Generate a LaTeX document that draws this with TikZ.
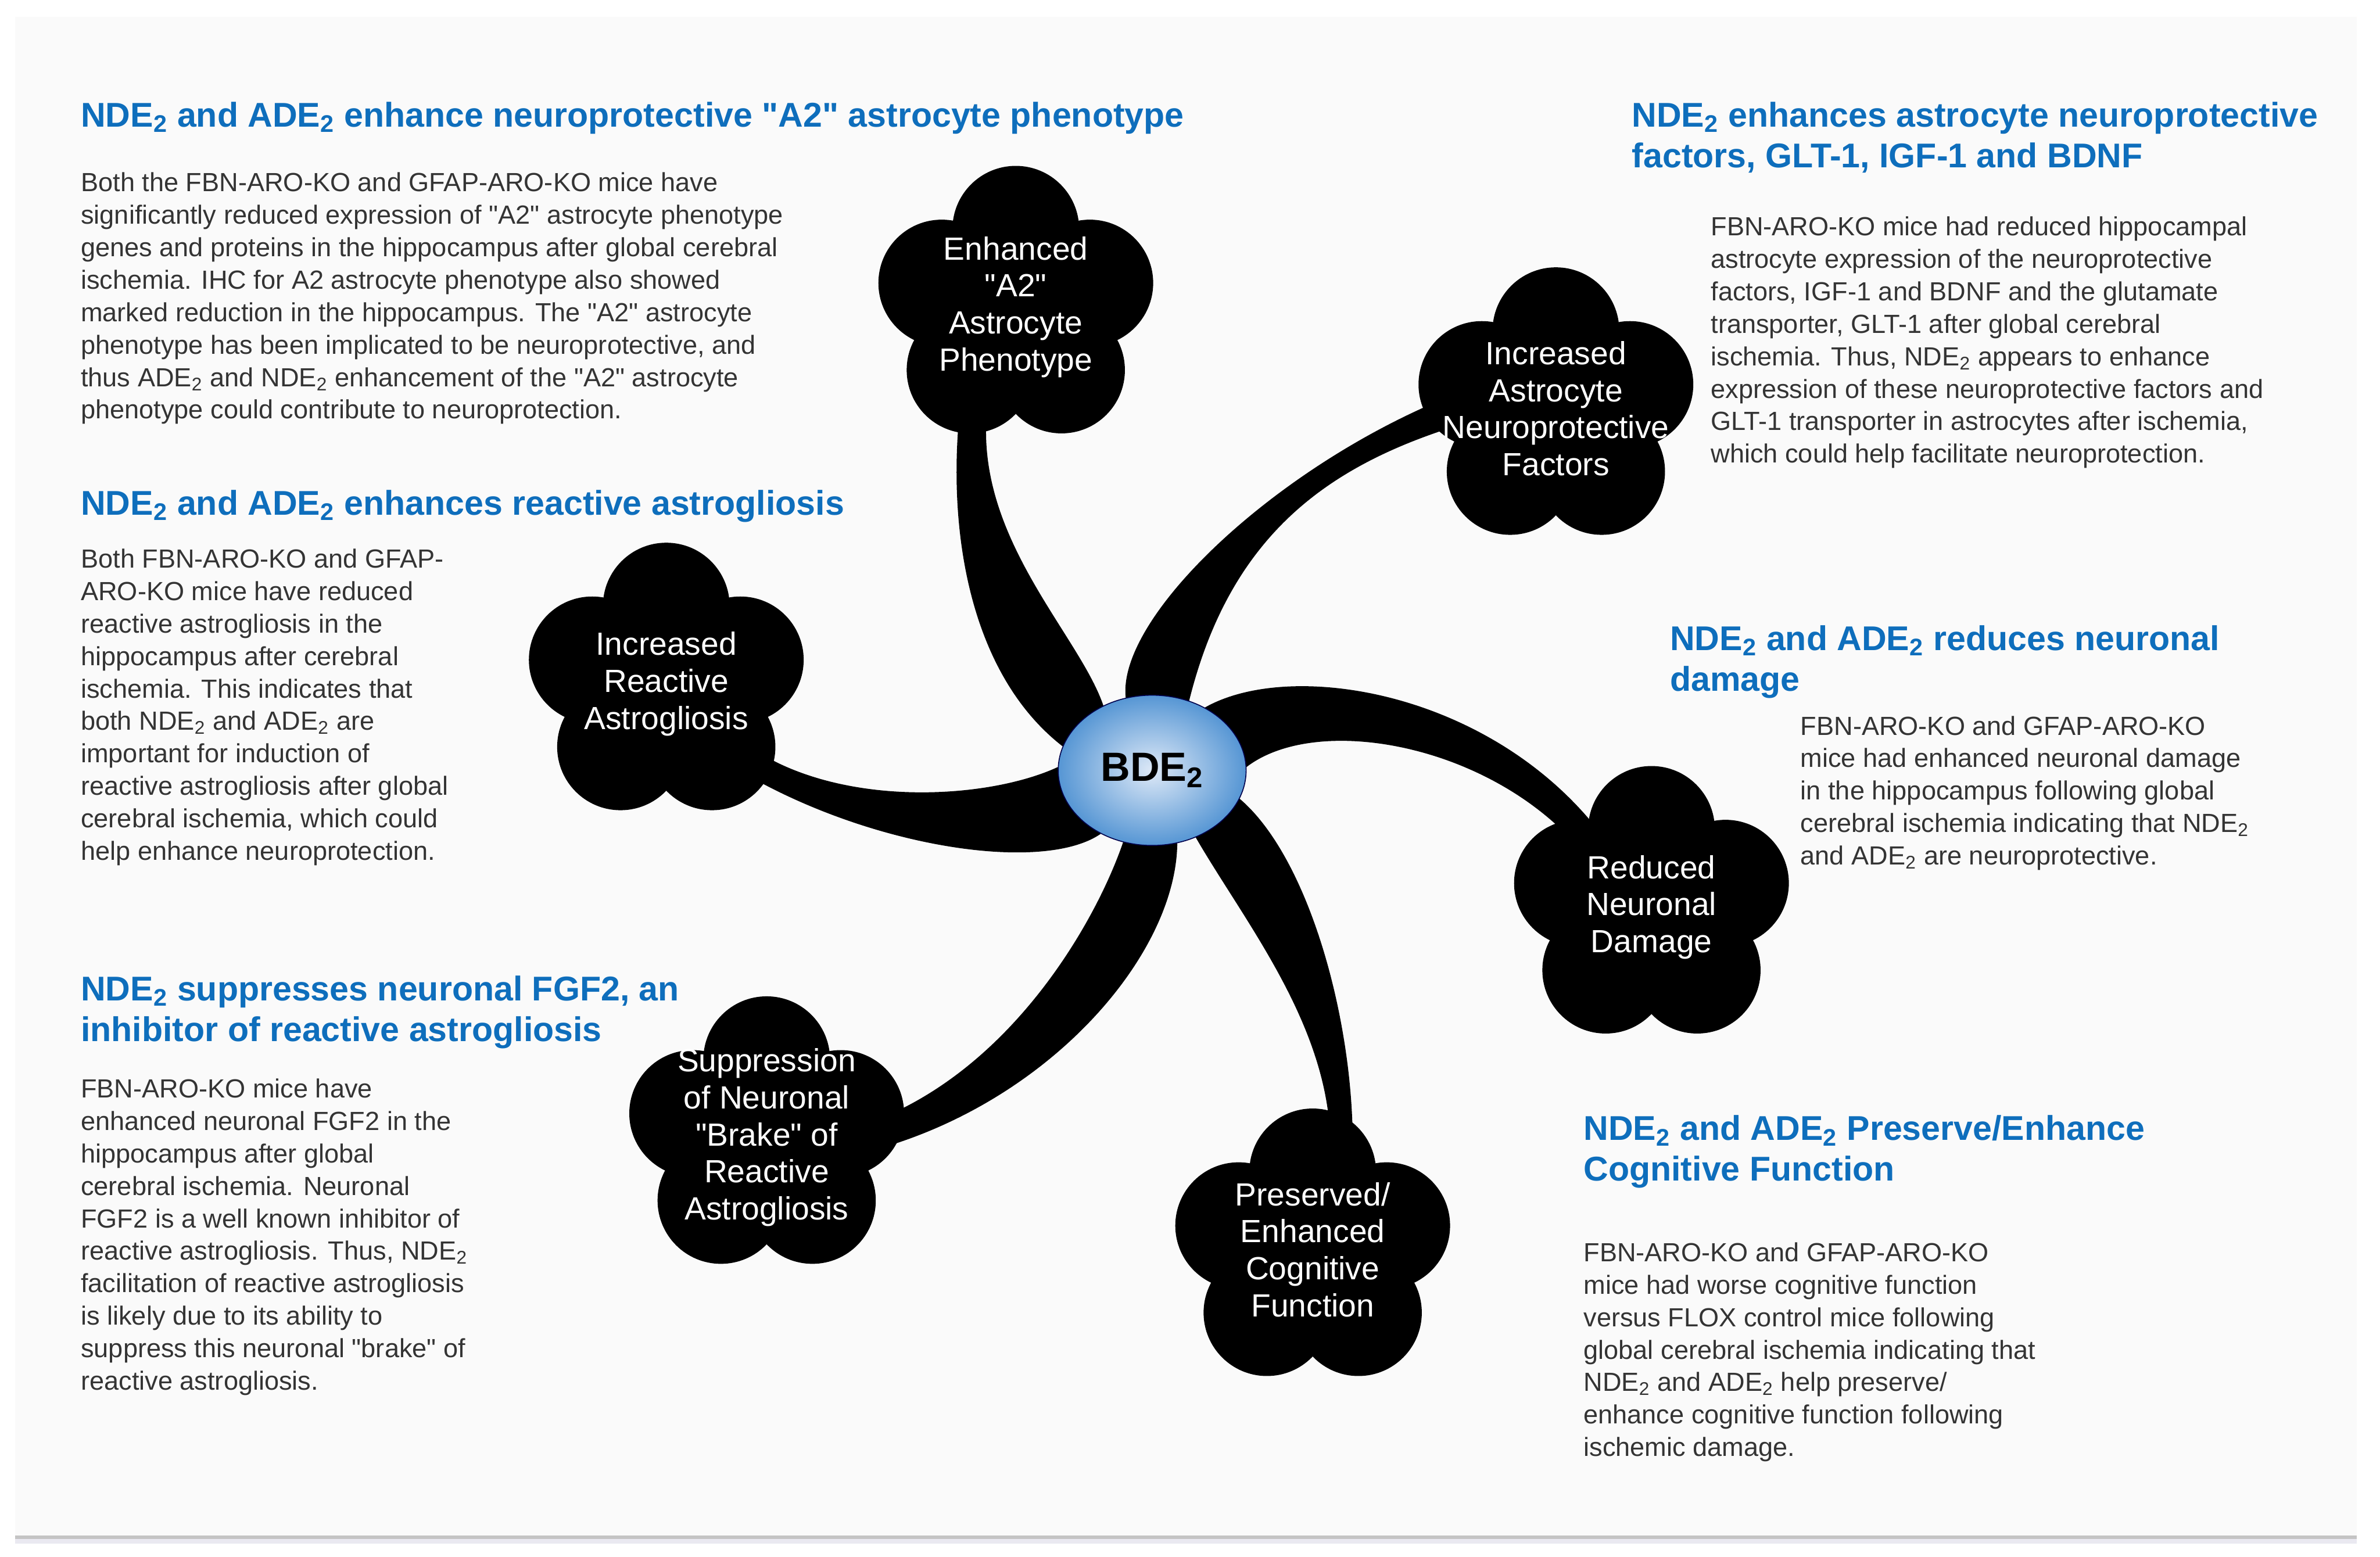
\documentclass[tikz,border=0pt]{standalone}
\usepackage{fontspec}
\setmainfont{Liberation Sans}
\newfontfamily\arialface{Liberation Sans}
\usetikzlibrary{shapes.geometric,calc}

\definecolor{headblue}{RGB}{14,110,188}
\definecolor{textgray}{RGB}{52,52,52}
\definecolor{panelgray}{RGB}{250,250,250}
\definecolor{lavender}{RGB}{234,233,241}
\definecolor{bdecenter}{RGB}{222,233,247}
\definecolor{bdeedge}{RGB}{86,150,212}

\newcommand{\subtwo}{\textsubscript{2}}
% five black petals round a flower node
\newcommand{\petals}[1]{%
  \fill (#1.center) circle (1.45);
  \foreach \a in {90,162,...,378} \fill (#1.center) ++(\a:1.45) circle (1.18);}

\pgfdeclarelayer{panel}
\pgfdeclarelayer{branch}
\pgfsetlayers{panel,branch,main}

\tikzset{
  heading/.style={anchor=north west, inner sep=0pt, align=left, text=headblue,
    font=\arialface\fontsize{18.2}{21.6}\selectfont\bfseries},
  blurb/.style={anchor=north west, inner sep=0pt, align=left, text=textgray,
    font=\arialface\fontsize{13.9}{17.2}\selectfont},
  flower/.style={inner sep=0pt, align=center, text=white,
    font=\arialface\fontsize{17}{19.6}\selectfont},
  hub/.style={ellipse, minimum width=3.5cm, minimum height=2.8cm, inner sep=0pt,
    inner color=bdecenter, outer color=bdeedge, draw=black!70!blue, line width=0.5pt,
    font=\arialface\fontsize{21.6}{24}\selectfont\bfseries}
}

\begin{document}
\begin{tikzpicture}

\useasboundingbox (0,0) rectangle (44.33,-29.00);

% Centre and the six flowers
\node[hub] (bde) at (21.46,-14.35) {BDE\subtwo};
\node[flower] (a2) at (18.92,-5.72) {Enhanced\\"A2"\\Astrocyte\\Phenotype};
\node[flower] (fac) at (28.98,-7.61) {Increased\\Astrocyte\\Neuroprotective\\Factors};
\node[flower] (rea) at (12.41,-12.74) {Increased\\Reactive\\Astrogliosis};
\node[flower] (dam) at (30.76,-16.90) {Reduced\\Neuronal\\Damage};
\node[flower] (sup) at (14.28,-21.19) {Suppression\\of Neuronal\\"Brake" of\\Reactive\\Astrogliosis};
\node[flower] (cog) at (24.45,-23.28) {Preserved/\\Enhanced\\Cognitive\\Function};

% Headings and text blocks
\node[heading] (hA2) at (1.50,-1.89) {NDE\subtwo{} and ADE\subtwo{} enhance neuroprotective "A2" astrocyte phenotype};
\node[blurb] (bA2) at (1.50,-3.21) {Both the FBN-ARO-KO and GFAP-ARO-KO mice have\\
significantly reduced expression of "A2" astrocyte phenotype\\
genes and proteins in the hippocampus after global cerebral\\
ischemia. IHC for A2 astrocyte phenotype also showed\\
marked reduction in the hippocampus. The "A2" astrocyte\\
phenotype has been implicated to be neuroprotective, and\\
thus ADE\subtwo{} and NDE\subtwo{} enhancement of the "A2" astrocyte\\
phenotype could contribute to neuroprotection.};

\node[heading] (hRea) at (1.50,-9.12) {NDE\subtwo{} and ADE\subtwo{} enhances reactive astrogliosis};
\node[blurb] (bRea) at (1.50,-10.22) {Both FBN-ARO-KO and GFAP-\\
ARO-KO mice have reduced\\
reactive astrogliosis in the\\
hippocampus after cerebral\\
ischemia. This indicates that\\
both NDE\subtwo{} and ADE\subtwo{} are\\
important for induction of\\
reactive astrogliosis after global\\
cerebral ischemia, which could\\
help enhance neuroprotection.};

\node[heading] (hSup) at (1.50,-18.17) {NDE\subtwo{} suppresses neuronal FGF2, an\\inhibitor of reactive astrogliosis};
\node[blurb] (bSup) at (1.50,-20.09) {FBN-ARO-KO mice have\\
enhanced neuronal FGF2 in the\\
hippocampus after global\\
cerebral ischemia. Neuronal\\
FGF2 is a well known inhibitor of\\
reactive astrogliosis. Thus, NDE\subtwo\\
facilitation of reactive astrogliosis\\
is likely due to its ability to\\
suppress this neuronal "brake" of\\
reactive astrogliosis.};

\node[heading] (hFac) at (30.39,-1.89) {NDE\subtwo{} enhances astrocyte neuroprotective\\factors, GLT-1, IGF-1 and BDNF};
\node[blurb] (bFac) at (31.86,-4.03) {FBN-ARO-KO mice had reduced hippocampal\\
astrocyte expression of the neuroprotective\\
factors, IGF-1 and BDNF and the glutamate\\
transporter, GLT-1 after global cerebral\\
ischemia. Thus, NDE\subtwo{} appears to enhance\\
expression of these neuroprotective factors and\\
GLT-1 transporter in astrocytes after ischemia,\\
which could help facilitate neuroprotection.};

\node[heading] (hDam) at (31.10,-11.64) {NDE\subtwo{} and ADE\subtwo{} reduces neuronal\\damage};
\node[blurb] (bDam) at (33.53,-13.33) {FBN-ARO-KO and GFAP-ARO-KO\\
mice had enhanced neuronal damage\\
in the hippocampus following global\\
cerebral ischemia indicating that NDE\subtwo\\
and ADE\subtwo{} are neuroprotective.};

\node[heading] (hCog) at (29.49,-20.77) {NDE\subtwo{} and ADE\subtwo{} Preserve/Enhance\\Cognitive Function};
\node[blurb] (bCog) at (29.49,-23.14) {FBN-ARO-KO and GFAP-ARO-KO\\
mice had worse cognitive function\\
versus FLOX control mice following\\
global cerebral ischemia indicating that\\
NDE\subtwo{} and ADE\subtwo{} help preserve/\\
enhance cognitive function following\\
ischemic damage.};

% Panel behind everything
\begin{pgfonlayer}{panel}
\fill[white] (0,0) rectangle (44.33,-29.00);
\fill[panelgray] (0.28,-0.31) rectangle (43.90,-28.60);
\fill[black!23] (0.28,-28.60) rectangle (43.90,-28.67);
\fill[lavender] (0.28,-28.67) rectangle (43.90,-28.76);
\end{pgfonlayer}

% Flowers and tapered branches
\begin{pgfonlayer}{branch}
\foreach \f in {a2,fac,rea,dam,sup,cog} {\petals{\f}}

\fill (bde.110) .. controls +(-0.17,1.51) and +(-3.3,-1.3) .. ($(fac.center)+(172:1.9)$)
  -- ($(fac.center)+(190:1.9)$) .. controls +(-2.41,-0.76) and +(0.76,3.06) .. (bde.62) -- cycle;
\fill (bde.50) .. controls +(1.56,0.89) and +(-2.07,2.5) .. ($(dam.center)+(125:1.9)$)
  -- ($(dam.center)+(140:1.9)$) .. controls +(-1.7,1.84) and +(1.29,0.99) .. (bde.2) -- cycle;
\fill (bde.303) .. controls +(0.93,-1.61) and +(0.02,2.26) .. ($(cog.center)+(80:1.9)$)
  -- ($(cog.center)+(67:1.9)$) .. controls +(0.06,2.38) and +(1.32,-1.12) .. (bde.342) -- cycle;
\fill (bde.248) .. controls +(-0.52,-1.52) and +(2.64,0.95) .. ($(sup.center)+(8:1.9)$)
  -- ($(sup.center)+(-8:1.9)$) .. controls +(3.34,0.87) and +(-0.02,-2.1) .. (bde.289) -- cycle;
\fill ($(rea.center)+(-37:1.9)$) .. controls +(1.67,-1.18) and +(-1.31,-0.61) .. (bde.178)
  -- (bde.231) .. controls +(-1.11,-0.77) and +(2.42,-1.52) .. ($(rea.center)+(-52:1.9)$) -- cycle;
\fill ($(a2.center)+(-122:1.9)$) .. controls +(-0.31,-2.34) and +(-1.8,1.4) .. (bde.165)
  -- (bde.127) .. controls +(-0.46,1.35) and +(-0.3,-2.42) .. ($(a2.center)+(-106:1.9)$) -- cycle;
\end{pgfonlayer}

\end{tikzpicture}
\end{document}
